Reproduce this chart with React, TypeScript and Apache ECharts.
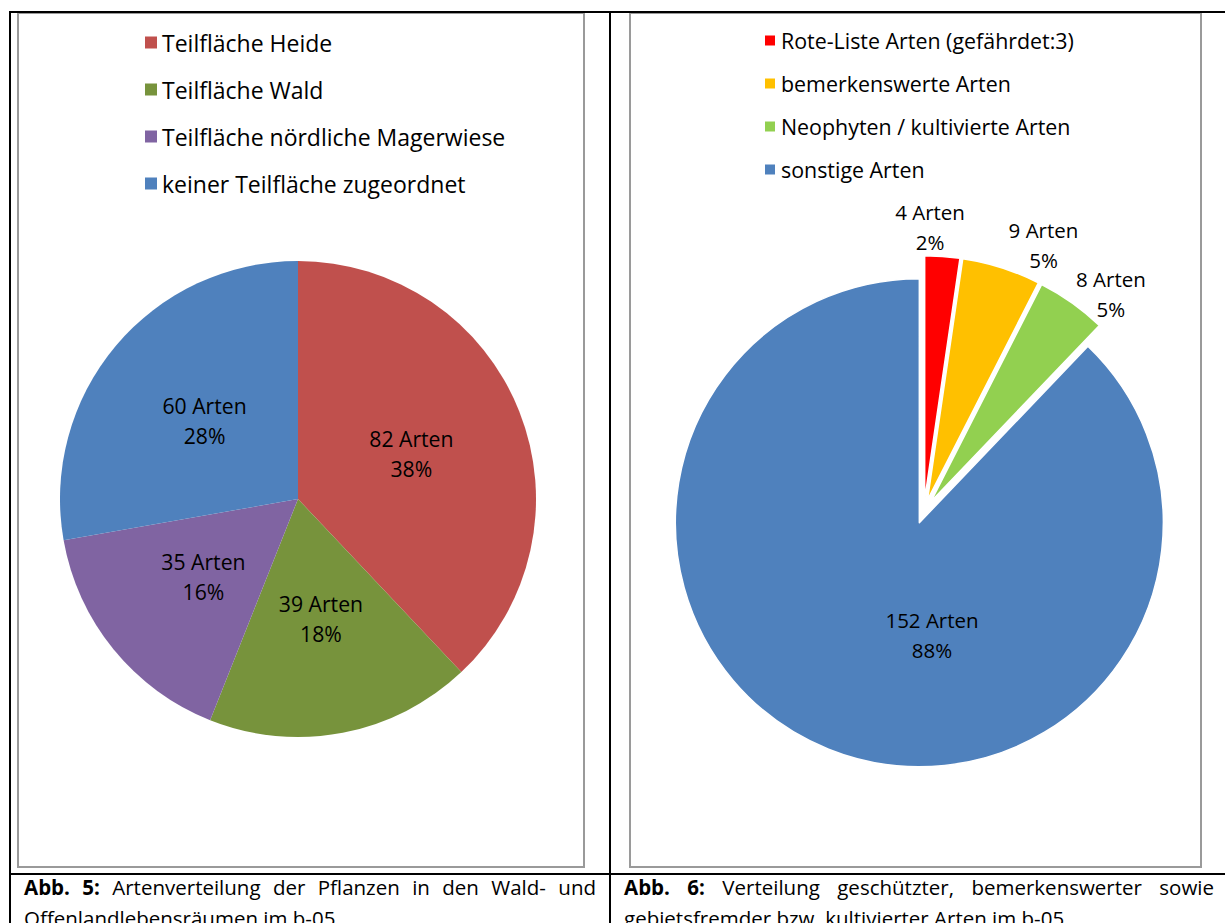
import React, { useEffect, useRef } from "react";
import * as echarts from "echarts";

const LEFT_NAMES = [
  "Teilfläche Heide",
  "Teilfläche Wald",
  "Teilfläche nördliche Magerwiese",
  "keiner Teilfläche zugeordnet",
];
const LEFT_VALUES = [82, 39, 35, 60];
const LEFT_COLORS = ["#C0504D", "#77933C", "#8064A2", "#4F81BD"];

const RIGHT_NAMES = [
  "Rote-Liste Arten (gefährdet:3)",
  "bemerkenswerte Arten",
  "Neophyten / kultivierte Arten",
  "sonstige Arten",
];
const RIGHT_VALUES = [4, 9, 8, 152];
const RIGHT_COLORS = ["#FF0000", "#FFC000", "#92D050", "#4F81BD"];

// label anchor placement for the right pie (polar, relative to pie centre)
const RIGHT_LABEL_ANGLE = [1.25, 24.2, 40.7, 176.2];
const RIGHT_LABEL_DIST = [285, 292, 287, 124];

const FONT = "'Open Sans', Lato, sans-serif";

const LEFT_CENTER = [298, 499];
const LEFT_RADIUS = 238;
const RIGHT_CENTER = [923.8, 511.6];
const RIGHT_RADIUS = 244;

function Chart() {
  const ref = useRef<HTMLDivElement>(null);
  useEffect(() => {
    if (!ref.current) return;
    const chart = echarts.init(ref.current, undefined, { renderer: "svg" });
    const labelStyle = (size: number) => ({
      color: "#000",
      fontSize: size,
      lineHeight: 30,
      fontFamily: FONT,
    });
    const legendText = (size: number) => ({
      color: "#000",
      fontSize: size,
      lineHeight: 24,
      fontFamily: FONT,
    });
    chart.setOption({
      animation: false,
      backgroundColor: "transparent",
      legend: [
        {
          orient: "vertical",
          left: 145,
          top: 30.5,
          padding: 0,
          icon: "rect",
          itemWidth: 12,
          itemHeight: 12,
          itemGap: 23,
          selectedMode: false,
          textStyle: legendText(23),
          data: LEFT_NAMES,
        },
        {
          orient: "vertical",
          left: 763,
          top: 28.5,
          padding: 0,
          icon: "rect",
          itemWidth: 12,
          itemHeight: 12,
          itemGap: 19,
          selectedMode: false,
          textStyle: legendText(21.4),
          data: RIGHT_NAMES,
        },
      ],
      series: [
        {
          type: "pie",
          center: LEFT_CENTER,
          radius: LEFT_RADIUS,
          startAngle: 90,
          clockwise: true,
          percentPrecision: 0,
          label: {
            show: true,
            position: "inside",
            formatter: "{c} Arten\n{d}%",
            ...labelStyle(21.2),
          },
          labelLine: { show: false },
          itemStyle: { borderWidth: 0 },
          emphasis: { disabled: true },
          data: LEFT_NAMES.map((n, i) => ({
            name: n,
            value: LEFT_VALUES[i],
            itemStyle: { color: LEFT_COLORS[i] },
          })),
        },
        {
          type: "pie",
          center: RIGHT_CENTER,
          radius: RIGHT_RADIUS,
          startAngle: 90,
          clockwise: true,
          percentPrecision: 0,
          selectedMode: "multiple",
          selectedOffset: 12,
          label: { show: false },
          labelLine: { show: false },
          emphasis: { disabled: true },
          itemStyle: { borderColor: "#fff", borderWidth: 1.5 },
          data: RIGHT_NAMES.map((n, i) => ({
            name: n,
            value: RIGHT_VALUES[i],
            selected: true,
            itemStyle: { color: RIGHT_COLORS[i] },
          })),
        },
        {
          // label carrier for the right pie (same data, invisible sectors)
          type: "pie",
          center: RIGHT_CENTER,
          radius: RIGHT_RADIUS,
          startAngle: 90,
          clockwise: true,
          percentPrecision: 0,
          silent: true,
          z: 5,
          emphasis: { disabled: true },
          label: {
            show: true,
            position: "inside",
            formatter: "{c} Arten\n{d}%",
            ...labelStyle(20.5),
          },
          labelLine: { show: false },
          labelLayout: (p: any) => {
            const i = p.dataIndex;
            const a = (RIGHT_LABEL_ANGLE[i] * Math.PI) / 180;
            return {
              x: RIGHT_CENTER[0] + RIGHT_LABEL_DIST[i] * Math.sin(a),
              y: RIGHT_CENTER[1] - RIGHT_LABEL_DIST[i] * Math.cos(a),
              align: "center",
              verticalAlign: "middle",
            };
          },
          itemStyle: { color: "rgba(0,0,0,0)", borderWidth: 0 },
          data: RIGHT_NAMES.map((n, i) => ({
            name: n,
            value: RIGHT_VALUES[i],
          })),
        },
      ],
    });
    return () => chart.dispose();
  }, []);
  return (
    <div
      ref={ref}
      style={{ position: "absolute", left: 0, top: 0, width: 1225, height: 870 }}
    />
  );
}

const line = (l: number, t: number, w: number, h: number, c: string) => (
  <div style={{ position: "absolute", left: l, top: t, width: w, height: h, background: c }} />
);

export default function App() {
  const caption: React.CSSProperties = {
    position: "absolute",
    top: 872,
    fontFamily: FONT,
    fontSize: 20.5,
    lineHeight: "31px",
    color: "#000",
  };
  const justLine: React.CSSProperties = {
    textAlign: "justify",
    textAlignLast: "justify",
    whiteSpace: "nowrap",
  };
  return (
    <div
      style={{
        position: "absolute",
        left: 0,
        top: 0,
        width: 1225,
        height: 923,
        overflow: "hidden",
        background: "#fff",
      }}
    >
      <div
        style={{
          position: "absolute",
          left: 17,
          top: 12,
          width: 568,
          height: 856,
          border: "2px solid #9a9a9a",
          boxSizing: "border-box",
        }}
      />
      <div
        style={{
          position: "absolute",
          left: 629,
          top: 12,
          width: 573,
          height: 856,
          border: "2px solid #9a9a9a",
          boxSizing: "border-box",
        }}
      />
      {line(9, 11, 1230, 2, "#000")}
      {line(9, 11, 2, 920, "#000")}
      {line(609, 11, 2, 920, "#000")}
      {line(9, 873, 1230, 2, "#000")}
      <div style={{ ...caption, left: 24, width: 572 }}>
        <div style={justLine}>
          <b>Abb. 5:</b> Artenverteilung der Pflanzen in den Wald- und
        </div>
        <div>Offenlandlebensräumen im b-05</div>
      </div>
      <div style={{ ...caption, left: 624, width: 590 }}>
        <div style={justLine}>
          <b>Abb. 6:</b> Verteilung geschützter, bemerkenswerter sowie
        </div>
        <div>gebietsfremder bzw. kultivierter Arten im b-05</div>
      </div>
      <Chart />
    </div>
  );
}
